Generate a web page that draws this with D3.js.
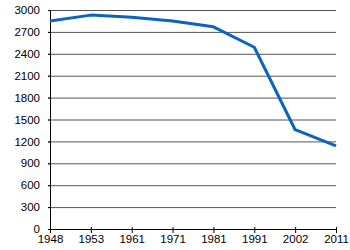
<!DOCTYPE html>
<html>
<head>
<meta charset="utf-8">
<script src="https://cdn.jsdelivr.net/npm/d3@7"></script>
<style>
  body { margin: 0; background: #fff; }
  svg text { font-family: "Liberation Sans", Arial, sans-serif; font-size: 11.5px; fill: #000; }
</style>
</head>
<body>
<div id="viz"></div>
<script>
// population by census year
var years = ['1948', '1953', '1961', '1971', '1981', '1991', '2002', '2011'];
var population = [2850, 2930, 2900, 2850, 2770, 2490, 1360, 1140];
var yTicks = [0, 300, 600, 900, 1200, 1500, 1800, 2100, 2400, 2700, 3000];

var margin = { top: 10, right: 14, bottom: 21, left: 50 },
    width = 350 - margin.left - margin.right,
    height = 250 - margin.top - margin.bottom;

var svg = d3.select('#viz').append('svg')
  .attr('width', 350)
  .attr('height', 250);

var g = svg.append('g')
  .attr('transform', 'translate(' + margin.left + ',' + margin.top + ')');

var xScale = d3.scalePoint()
  .domain(years)
  .range([0, width]);

var yScale = d3.scaleLinear()
  .domain([0, 3000])
  .range([height, 0]);

// gridlines
g.append('g')
  .selectAll('line').data(yTicks.filter(d => d > 0))
  .enter().append('line')
    .attr('x1', -2)
    .attr('x2', width)
    .attr('y1', d => yScale(d) + 0.5)
    .attr('y2', d => yScale(d) + 0.5)
    .attr('stroke', '#555')
    .attr('stroke-width', 1);

var yAxis = g.append('g')
  .call(d3.axisLeft(yScale).tickValues(yTicks).tickFormat(d3.format('d')).tickSize(2).tickPadding(8));
yAxis.select('.domain').attr('stroke', '#000');
yAxis.selectAll('.tick line').attr('stroke', '#000');

var xAxis = g.append('g')
  .attr('transform', 'translate(0,' + height + ')')
  .call(d3.axisBottom(xScale).tickSizeInner(4).tickSizeOuter(0).tickPadding(2));
xAxis.select('.domain').attr('stroke', '#000');
xAxis.selectAll('.tick line').attr('stroke', '#000').attr('y1', -2);

var line = d3.line()
  .x((d, i) => xScale(years[i]))
  .y(d => yScale(d));

g.append('path')
  .datum(population)
  .attr('fill', 'none')
  .attr('stroke', '#0a64c0')
  .attr('stroke-width', 3)
  .attr('stroke-linejoin', 'round')
  .attr('d', line);
</script>
</body>
</html>
